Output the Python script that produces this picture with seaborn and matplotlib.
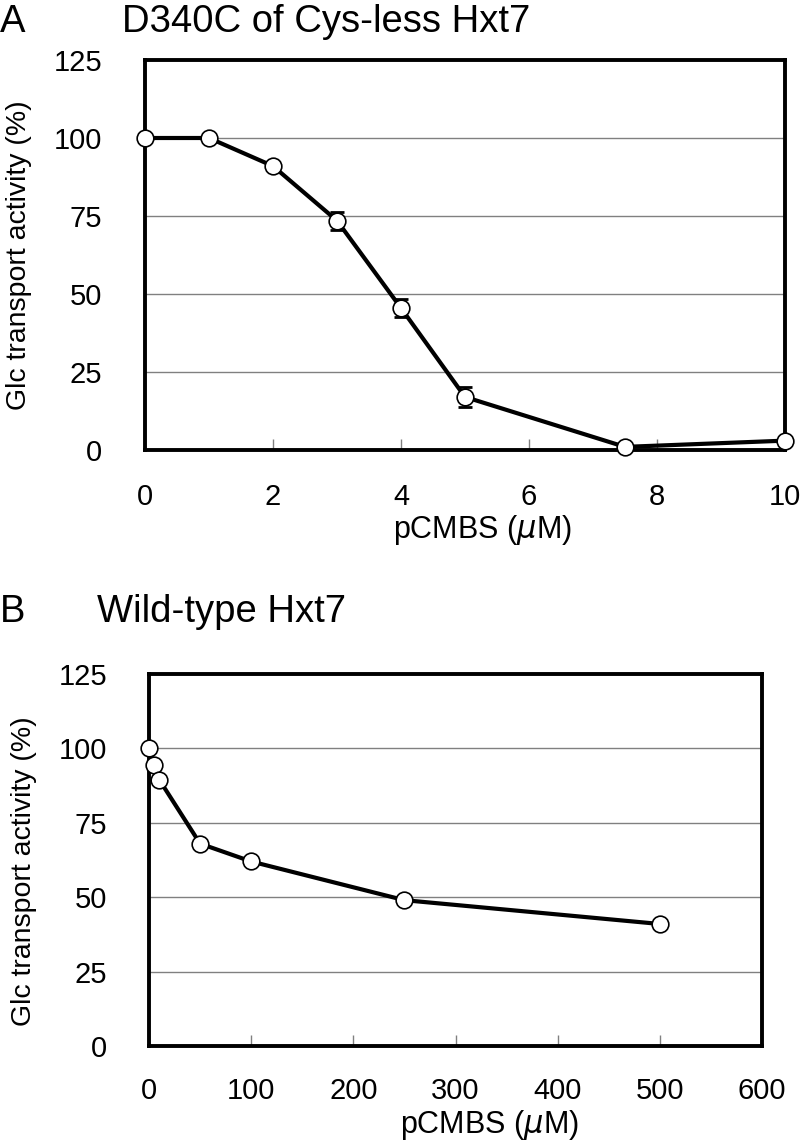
import numpy as np
import pandas as pd
import matplotlib
matplotlib.use("Agg")
import matplotlib.pyplot as plt
import seaborn as sns

# Panel A data: D340C of Cys-less Hxt7
a_conc = [0, 1, 2, 3, 4, 5, 7.5, 10]
a_activity = [100, 100, 91, 73.5, 45.5, 17, 1, 3]
a_err = [0, 0, 1, 2.9, 3, 3.3, 1, 0.5]
a_xticks = [0, 2, 4, 6, 8, 10]

# Panel B data: Wild-type Hxt7
b_conc = [0, 5, 10, 50, 100, 250, 500]
b_activity = [100, 94.5, 89.5, 68, 62, 49, 41]
b_xticks = [0, 100, 200, 300, 400, 500, 600]

y_ticks = [0, 25, 50, 75, 100, 125]

sns.set_theme(style="white")
plt.rcParams['font.family'] = ['Liberation Sans', 'DejaVu Sans']
plt.rcParams['mathtext.fontset'] = 'dejavusans'
plt.rcParams['text.color'] = 'black'
plt.rcParams['axes.labelcolor'] = 'black'
plt.rcParams['xtick.color'] = 'black'
plt.rcParams['ytick.color'] = 'black'

W, H = 800, 1144
fig = plt.figure(figsize=(W / 100, H / 100), dpi=100)

def box(l, t, r, b):
    return [l / W, 1 - b / H, (r - l) / W, (b - t) / H]

axA = fig.add_axes(box(145, 60, 785, 450))
axB = fig.add_axes(box(149, 674, 762, 1046))

def style(ax, xlim, xticks, xpad, ypad):
    ax.set_ylim(0, 125)
    ax.set_xlim(*xlim)
    ax.set_yticks(y_ticks)
    ax.set_xticks(xticks)
    for v in y_ticks[1:-1]:
        ax.axhline(v, color='#808080', lw=1.0, zorder=1)
    for s in ax.spines.values():
        s.set_visible(True)
        s.set_color('black')
        s.set_linewidth(2.8)
        s.set_zorder(3)
    ax.tick_params(axis='x', direction='in', length=8, width=1, color='#808080',
                   pad=xpad, labelsize=21, labelcolor='black', bottom=True)
    ax.tick_params(axis='y', length=0, pad=ypad, labelsize=21, labelcolor='black', left=True)
    ax.set_ylabel('Glc transport activity (%)', fontsize=20.5, color='black')
    ax.set_xlabel(r'pCMBS ($\mu$M)', fontsize=22, color='black')
    ax.grid(False)

# Panel A
dfA = pd.DataFrame({'conc': a_conc, 'activity': a_activity})
axA.errorbar(a_conc, a_activity, yerr=a_err, fmt='none', ecolor='black',
             elinewidth=2, capsize=5, capthick=2, zorder=4, clip_on=False)
sns.lineplot(data=dfA, x='conc', y='activity', ax=axA, color='black', lw=3,
             marker='o', markersize=12, markerfacecolor='white',
             markeredgecolor='black', markeredgewidth=1.2, zorder=5, clip_on=False)
style(axA, (0, 10), a_xticks, 24, 31)
axA.xaxis.set_label_coords(0.528, -0.162)
axA.yaxis.set_label_coords(-0.177, 0.5)

# Panel B
dfB = pd.DataFrame({'conc': b_conc, 'activity': b_activity})
sns.lineplot(data=dfB, x='conc', y='activity', ax=axB, color='black', lw=3,
             marker='o', markersize=12, markerfacecolor='white',
             markeredgecolor='black', markeredgewidth=1.2, zorder=5, clip_on=False)
style(axB, (0, 600), b_xticks, 22, 30)
axB.xaxis.set_label_coords(0.556, -0.167)
axB.yaxis.set_label_coords(-0.183, 0.47)

# Panel letters and titles
fig.text(0 / W, 1 - 32 / H, 'A', fontsize=27.5, va='baseline', ha='left')
fig.text(122 / W, 1 - 32 / H, 'D340C of Cys-less Hxt7', fontsize=27.5, va='baseline', ha='left')
fig.text(0 / W, 1 - 622 / H, 'B', fontsize=27.5, va='baseline', ha='left')
fig.text(97 / W, 1 - 622 / H, 'Wild-type Hxt7', fontsize=27.5, va='baseline', ha='left')

fig.savefig('out.png', dpi=100, facecolor='white')
